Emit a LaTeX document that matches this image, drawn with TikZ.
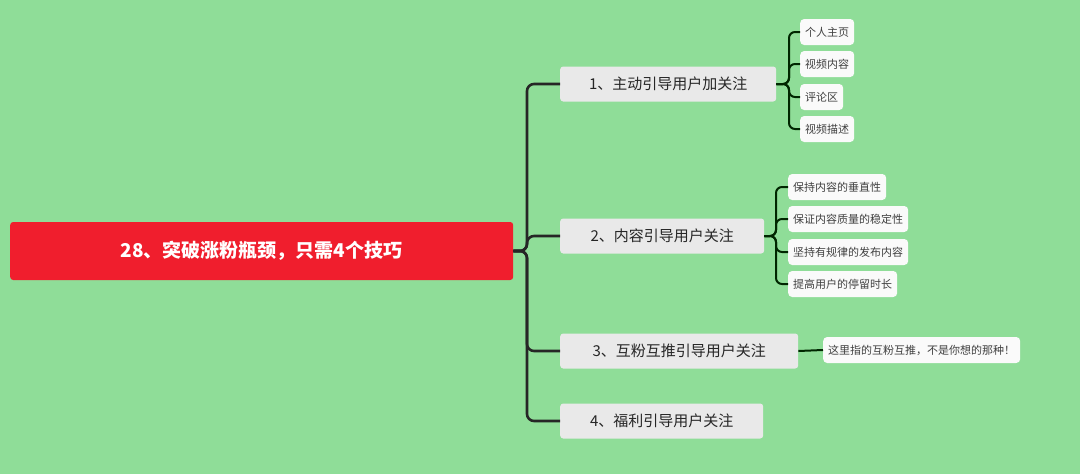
\documentclass[tikz,border=0pt]{standalone}
\usepackage{fontspec}
\setmainfont{Noto Sans CJK SC}
\begin{document}
\begin{tikzpicture}[x=1pt,y=-1pt,
 br/.style={fill=gray!17,rounded corners=3pt,minimum height=35pt,inner xsep=10pt,anchor=west,font=\fontsize{15}{15}\selectfont,text=black!85},
 lf/.style={fill=white!96!gray,rounded corners=4pt,minimum height=26pt,inner xsep=5pt,anchor=west,font=\fontsize{11}{11}\selectfont,text=black!75},
 cn/.style={draw=black!85,line width=2.6pt,rounded corners=7pt},
 cs/.style={draw=black!85!green,line width=2pt,rounded corners=6pt}]
\fill[fill={rgb,255:red,143;green,221;blue,152}] (0,0) rectangle (1080,474);
\node[fill={rgb,255:red,240;green,30;blue,45},rounded corners=3pt,minimum width=503pt,minimum height=58pt,text=white,font=\fontsize{19}{19}\selectfont\bfseries,anchor=west] (root) at (10,251) {28、突破涨粉瓶颈，只需4个技巧};
\node[br,minimum width=216pt] (b1) at (560,84) {1、主动引导用户加关注};
\node[br,minimum width=204pt] (b2) at (560,236) {2、内容引导用户关注};
\node[br,minimum width=238pt] (b3) at (560,351) {3、互粉互推引导用户关注};
\node[br,minimum width=203pt] (b4) at (560,421) {4、福利引导用户关注};
\foreach \t [count=\i] in {b1,b2,b3,b4}
  \draw[cn] (root.east) -- (527,251) |- (\t.west);
\node[lf] (l1) at (800,32) {个人主页};
\node[lf] (l2) at (800,64) {视频内容};
\node[lf] (l3) at (800,97) {评论区};
\node[lf] (l4) at (800,129) {视频描述};
\foreach \t in {l1,l2,l3,l4} \draw[cs] (b1.east) -- (789,84) |- (\t.west);
\node[lf] (m1) at (788,187) {保持内容的垂直性};
\node[lf] (m2) at (788,219) {保证内容质量的稳定性};
\node[lf] (m3) at (788,252) {坚持有规律的发布内容};
\node[lf] (m4) at (788,284) {提高用户的停留时长};
\foreach \t in {m1,m2,m3,m4} \draw[cs] (b2.east) -- (776,236) |- (\t.west);
\node[lf] (n1) at (823,350) {这里指的互粉互推，不是你想的那种！};
\draw[cs] (b3.east) -- (n1.west);
\end{tikzpicture}
\end{document}
